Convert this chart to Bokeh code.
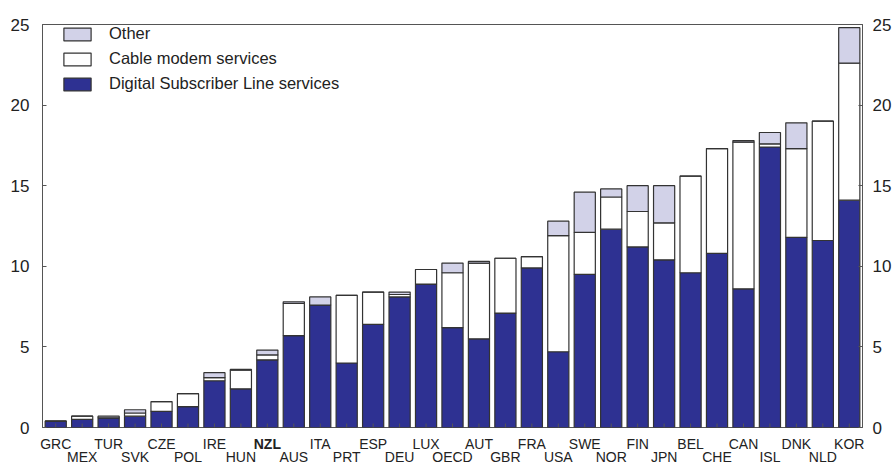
from bokeh.plotting import figure
from bokeh.models import Range1d, LinearAxis, FixedTicker, Legend, LegendItem
from bokeh.core.properties import value
from bokeh.embed import file_html
from bokeh.resources import INLINE

countries = ["GRC", "MEX", "TUR", "SVK", "CZE", "POL", "IRE", "HUN", "NZL", "AUS",
             "ITA", "PRT", "ESP", "DEU", "LUX", "OECD", "AUT", "GBR", "FRA", "USA",
             "SWE", "NOR", "FIN", "JPN", "BEL", "CHE", "CAN", "ISL", "DNK", "NLD", "KOR"]
dsl = [0.4, 0.5, 0.6, 0.7, 1.0, 1.3, 2.9, 2.4, 4.2, 5.7,
       7.6, 4.0, 6.4, 8.1, 8.9, 6.2, 5.5, 7.1, 9.9, 4.7,
       9.5, 12.3, 11.2, 10.4, 9.6, 10.8, 8.6, 17.4, 11.8, 11.6, 14.1]
cable = [0.0, 0.2, 0.0, 0.2, 0.6, 0.8, 0.2, 1.15, 0.3, 2.0,
         0.0, 4.2, 2.0, 0.15, 0.9, 3.4, 4.7, 3.4, 0.7, 7.2,
         2.6, 2.0, 2.2, 2.3, 6.0, 6.5, 9.1, 0.2, 5.5, 7.4, 8.5]
other = [0.0, 0.0, 0.1, 0.2, 0.0, 0.0, 0.3, 0.05, 0.3, 0.1,
         0.5, 0.0, 0.0, 0.15, 0.0, 0.6, 0.1, 0.0, 0.0, 0.9,
         2.5, 0.5, 1.6, 2.3, 0.0, 0.0, 0.1, 0.7, 1.6, 0.0, 2.2]
y_ticks = [0, 5, 10, 15, 20, 25]
bold_label = "NZL"

FONT = "Liberation Sans"
TXT = "#222222"
FRAME = "#555555"
DSL_C = "#2E3192"
CABLE_C = "#FFFFFF"
OTHER_C = "#D2D2E8"

W, H = 895, 464
LEFT, RIGHT, TOP = 42, 33, 24
FRAME_H = 403
BOT = 9
P_H = TOP + FRAME_H + BOT
LAB_H = H - P_H

n = len(countries)
xs = list(range(n))
data = dict(x=xs, dsl=dsl, cable=cable, other=other)
xr = Range1d(-0.5, n - 0.5)
unit = (W - LEFT - RIGHT) / n
xr2 = Range1d(-0.5 - LEFT / unit, n - 0.5 + RIGHT / unit)

p = figure(width=W, height=P_H, output_backend="svg", toolbar_location=None,
           x_range=xr, y_range=Range1d(0, 25),
           min_border_left=LEFT, min_border_right=RIGHT, min_border_top=TOP,
           min_border_bottom=BOT, y_axis_location=None, x_axis_location=None)
p.background_fill_color = "white"
p.border_fill_color = "white"
p.outline_line_color = FRAME
p.outline_line_width = 1
p.xgrid.visible = False
p.ygrid.visible = False

rs = p.vbar_stack(["dsl", "cable", "other"], x="x", width=0.8, source=data,
                  fill_color=[DSL_C, CABLE_C, OTHER_C], line_color="#333333",
                  line_width=1.2)

# small inward category ticks on the bottom edge
tick_len = 25 * 4 / FRAME_H
p.segment(x0=xs, y0=[0] * n, x1=xs, y1=[tick_len] * n, line_color=FRAME, line_width=1)

for side in ("left", "right"):
    ax = LinearAxis(ticker=FixedTicker(ticks=y_ticks))
    ax.major_tick_in = 4
    ax.major_tick_out = 0
    ax.minor_tick_line_color = None
    ax.axis_line_color = FRAME
    ax.major_tick_line_color = FRAME
    ax.major_label_text_font = FONT
    ax.major_label_text_font_size = "17px"
    ax.major_label_text_color = TXT
    ax.major_label_standoff = 13 if side == "left" else 10
    p.add_layout(ax, side)

legend = Legend(items=[LegendItem(label="Other", renderers=[rs[2]]),
                       LegendItem(label="Cable modem services", renderers=[rs[1]]),
                       LegendItem(label="Digital Subscriber Line services", renderers=[rs[0]])],
                location=(18, FRAME_H - 9 - 60))
legend.glyph_width = 34
legend.glyph_height = 16
legend.label_height = 16
legend.spacing = 6
legend.padding = 0
legend.margin = 0
legend.label_standoff = 15
legend.label_text_font = FONT
legend.label_text_font_size = "16.5px"
legend.label_text_color = TXT
legend.border_line_alpha = 0
legend.background_fill_alpha = 0
p.add_layout(legend, "center")

# category labels in two staggered rows, in a separate strip aligned with the bars
p2 = figure(width=W, height=LAB_H, output_backend="svg", toolbar_location=None,
            x_range=xr2, y_range=Range1d(LAB_H, 0),
            min_border_left=0, min_border_right=0, min_border_top=0,
            min_border_bottom=0, x_axis_location=None, y_axis_location=None)
p2.outline_line_color = None
p2.xgrid.visible = False
p2.ygrid.visible = False
p2.background_fill_color = "white"
p2.border_fill_color = "white"

row_y = [7 if i % 2 == 0 else 20 for i in range(n)]
norm = [i for i in range(n) if countries[i] != bold_label]
bold = [i for i in range(n) if countries[i] == bold_label]
p2.text(x=[xs[i] for i in norm], y=[row_y[i] for i in norm],
        text=[countries[i] for i in norm], text_font=value(FONT), text_font_size="14px",
        text_color=TXT, text_align="center", text_baseline="middle")
p2.text(x=[xs[i] for i in bold], y=[row_y[i] for i in bold],
        text=[countries[i] for i in bold], text_font=value(FONT), text_font_size="14px",
        text_font_style="bold",
        text_color=TXT, text_align="center", text_baseline="middle")

open("out.html", "w").write(file_html([p, p2], INLINE))
